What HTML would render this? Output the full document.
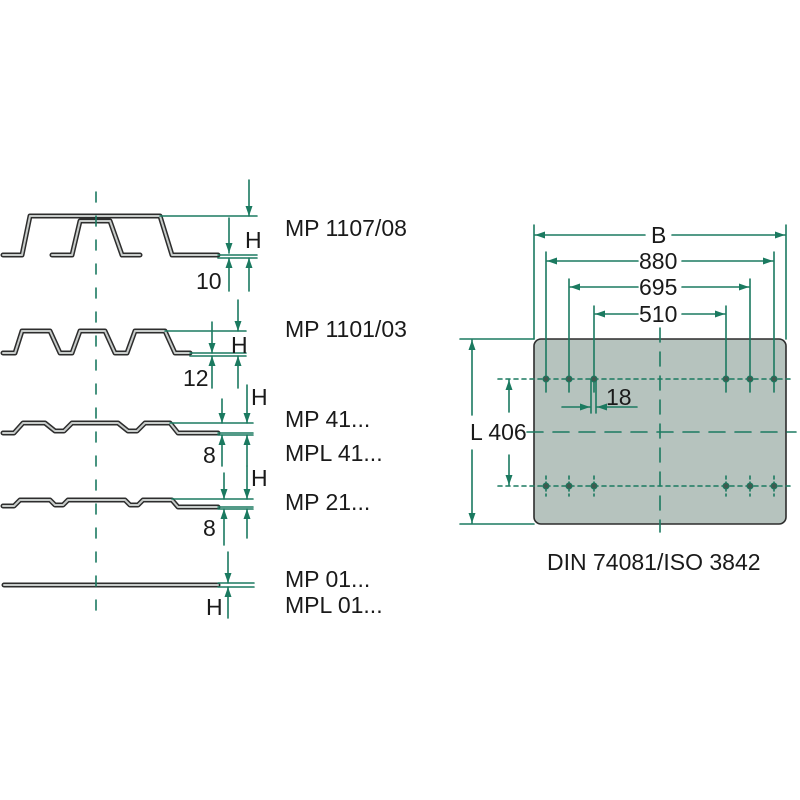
<!DOCTYPE html>
<html><head><meta charset="utf-8"><style>
html,body{margin:0;padding:0;background:#fff;}
svg{display:block;}
text{font-family:"Liberation Sans",sans-serif;font-size:23px;fill:#1a1a1a;}
</style></head><body>
<svg width="800" height="800" viewBox="0 0 800 800" xmlns="http://www.w3.org/2000/svg">
<defs>
<marker id="a" viewBox="0 0 10 10" refX="10" refY="5" markerWidth="12" markerHeight="10" orient="auto-start-reverse" markerUnits="userSpaceOnUse"><path d="M0,1.5 L10,5 L0,8.5 Z" fill="#1b7a60"/></marker>
</defs>
<g fill="none" stroke-linejoin="round" stroke-linecap="round">
<g stroke="#2d2d2d" stroke-width="5">
<path d="M3,255 L22,255 L30,216 L160,216 L172,255 L218,255"/>
<path d="M52,255 L72,255 L80,221 L110,221 L122,255 L140,255"/>
<path d="M3,353 L15,353 L22,331 L50,331 L60,353 L72,353 L80,331 L105,331 L115,353 L127,353 L135,331 L165,331 L175,353 L190,353"/>
<path d="M3,433 L14,433 L23,423 L45,423 L55,431 L64,431 L72,423 L118,423 L128,431 L137,431 L145,423 L170,423 L178,433 L218,433"/>
<path d="M3,506 L14,506 L20,500 L50,500 L55,505 L63,505 L68,500 L125,500 L130,505 L138,505 L143,500 L172,500 L178,507 L218,507"/>
<path d="M4,585 L218,585"/>
</g>
<g stroke="#c8ccca" stroke-width="2">
<path d="M3,255 L22,255 L30,216 L160,216 L172,255 L218,255"/>
<path d="M52,255 L72,255 L80,221 L110,221 L122,255 L140,255"/>
<path d="M3,353 L15,353 L22,331 L50,331 L60,353 L72,353 L80,331 L105,331 L115,353 L127,353 L135,331 L165,331 L175,353 L190,353"/>
<path d="M3,433 L14,433 L23,423 L45,423 L55,431 L64,431 L72,423 L118,423 L128,431 L137,431 L145,423 L170,423 L178,433 L218,433"/>
<path d="M3,506 L14,506 L20,500 L50,500 L55,505 L63,505 L68,500 L125,500 L130,505 L138,505 L143,500 L172,500 L178,507 L218,507"/>
<path d="M4,585 L218,585"/>
</g>
<g stroke="#1b7a60" stroke-width="1.6">
<line x1="96" y1="192" x2="96" y2="612" stroke-dasharray="10,14"/>
<line x1="160" y1="216" x2="257" y2="216"/><line x1="218" y1="255" x2="257" y2="255"/><line x1="218" y1="258" x2="257" y2="258"/>
<line x1="249" y1="180" x2="249" y2="216" marker-end="url(#a)"/>
<line x1="229" y1="218" x2="229" y2="253" marker-end="url(#a)"/>
<line x1="229" y1="291" x2="229" y2="258" marker-end="url(#a)"/>
<line x1="249" y1="291" x2="249" y2="258" marker-end="url(#a)"/>
<line x1="165" y1="331" x2="246" y2="331"/><line x1="190" y1="353" x2="246" y2="353"/><line x1="190" y1="356" x2="246" y2="356"/>
<line x1="238" y1="300" x2="238" y2="331" marker-end="url(#a)"/>
<line x1="212" y1="322" x2="212" y2="353" marker-end="url(#a)"/>
<line x1="212" y1="388" x2="212" y2="356" marker-end="url(#a)"/>
<line x1="238" y1="388" x2="238" y2="356" marker-end="url(#a)"/>
<line x1="170" y1="423" x2="253" y2="423"/><line x1="218" y1="433" x2="253" y2="433"/><line x1="218" y1="435" x2="253" y2="435"/>
<line x1="247" y1="385" x2="247" y2="423" marker-end="url(#a)"/>
<line x1="222" y1="399" x2="222" y2="423" marker-end="url(#a)"/>
<line x1="222" y1="466" x2="222" y2="435" marker-end="url(#a)"/>
<line x1="247" y1="466" x2="247" y2="435" marker-end="url(#a)"/>
<line x1="172" y1="499" x2="253" y2="499"/><line x1="218" y1="507" x2="253" y2="507"/><line x1="218" y1="509" x2="253" y2="509"/>
<line x1="247" y1="466" x2="247" y2="499" marker-end="url(#a)"/>
<line x1="224" y1="473" x2="224" y2="499" marker-end="url(#a)"/>
<line x1="224" y1="545" x2="224" y2="509" marker-end="url(#a)"/>
<line x1="247" y1="538" x2="247" y2="509" marker-end="url(#a)"/>
<line x1="218" y1="583" x2="254" y2="583"/><line x1="218" y1="587" x2="254" y2="587"/>
<line x1="228" y1="552" x2="228" y2="583" marker-end="url(#a)"/>
<line x1="228" y1="618" x2="228" y2="587" marker-end="url(#a)"/>
</g>
<rect x="534" y="339" width="252" height="185" rx="7" fill="#b6c3be" stroke="#2d2d2d" stroke-width="1.6"/>
<g stroke="#1b7a60" stroke-width="1.6">
<line x1="660" y1="328" x2="660" y2="532" stroke-dasharray="14,10"/>
<line x1="527" y1="432" x2="796" y2="432" stroke-dasharray="16,10"/>
<line x1="498" y1="379" x2="790" y2="379" stroke-dasharray="4,4"/>
<line x1="498" y1="486" x2="790" y2="486" stroke-dasharray="4,4"/>
<line x1="534" y1="225" x2="534" y2="339"/><line x1="786" y1="225" x2="786" y2="339"/>
<line x1="546" y1="252" x2="546" y2="392"/><line x1="774" y1="252" x2="774" y2="392"/>
<line x1="569" y1="279" x2="569" y2="392"/><line x1="750" y1="279" x2="750" y2="392"/>
<line x1="594" y1="306" x2="594" y2="392"/><line x1="726" y1="306" x2="726" y2="392"/>
<line x1="591" y1="379" x2="591" y2="413"/><line x1="596" y1="379" x2="596" y2="413"/>
<g stroke-dasharray="3,3">
<line x1="546" y1="476" x2="546" y2="496"/><line x1="569" y1="476" x2="569" y2="496"/><line x1="594" y1="476" x2="594" y2="496"/>
<line x1="726" y1="476" x2="726" y2="496"/><line x1="750" y1="476" x2="750" y2="496"/><line x1="774" y1="476" x2="774" y2="496"/>
</g>
<line x1="645" y1="235" x2="535" y2="235" marker-end="url(#a)"/><line x1="672" y1="235" x2="785" y2="235" marker-end="url(#a)"/>
<line x1="638" y1="261" x2="547" y2="261" marker-end="url(#a)"/><line x1="682" y1="261" x2="773" y2="261" marker-end="url(#a)"/>
<line x1="638" y1="287" x2="570" y2="287" marker-end="url(#a)"/><line x1="682" y1="287" x2="749" y2="287" marker-end="url(#a)"/>
<line x1="638" y1="314" x2="595" y2="314" marker-end="url(#a)"/><line x1="682" y1="314" x2="725" y2="314" marker-end="url(#a)"/>
<line x1="460" y1="339" x2="534" y2="339"/><line x1="460" y1="524" x2="534" y2="524"/>
<line x1="472" y1="415" x2="472" y2="340" marker-end="url(#a)"/><line x1="472" y1="450" x2="472" y2="523" marker-end="url(#a)"/>
<line x1="509" y1="412" x2="509" y2="380" marker-end="url(#a)"/><line x1="509" y1="455" x2="509" y2="485" marker-end="url(#a)"/>
<line x1="562" y1="407" x2="590" y2="407" marker-end="url(#a)"/><line x1="637" y1="407" x2="597" y2="407" marker-end="url(#a)"/>
</g>
<g fill="#3f5a50" stroke="#1b7a60" stroke-width="1">
<circle cx="546" cy="379" r="3"/><circle cx="569" cy="379" r="3"/><circle cx="594" cy="379" r="3"/>
<circle cx="726" cy="379" r="3"/><circle cx="750" cy="379" r="3"/><circle cx="774" cy="379" r="3"/>
<circle cx="546" cy="486" r="3"/><circle cx="569" cy="486" r="3"/><circle cx="594" cy="486" r="3"/>
<circle cx="726" cy="486" r="3"/><circle cx="750" cy="486" r="3"/><circle cx="774" cy="486" r="3"/>
</g>
</g>
<text x="285" y="236">MP 1107/08</text>
<text x="245" y="248">H</text>
<text x="196" y="289">10</text>
<text x="285" y="337">MP 1101/03</text>
<text x="231" y="353">H</text>
<text x="183" y="386">12</text>
<text x="251" y="405">H</text>
<text x="285" y="427">MP 41...</text>
<text x="285" y="461">MPL 41...</text>
<text x="203" y="463">8</text>
<text x="251" y="486">H</text>
<text x="285" y="510">MP 21...</text>
<text x="203" y="536">8</text>
<text x="285" y="587">MP 01...</text>
<text x="285" y="613">MPL 01...</text>
<text x="206" y="615">H</text>
<text x="651" y="243">B</text>
<text x="639" y="269">880</text>
<text x="639" y="295">695</text>
<text x="639" y="322">510</text>
<text x="606" y="405">18</text>
<text x="470" y="440">L 406</text>
<text x="547" y="570">DIN 74081/ISO 3842</text>
</svg>
</body></html>
